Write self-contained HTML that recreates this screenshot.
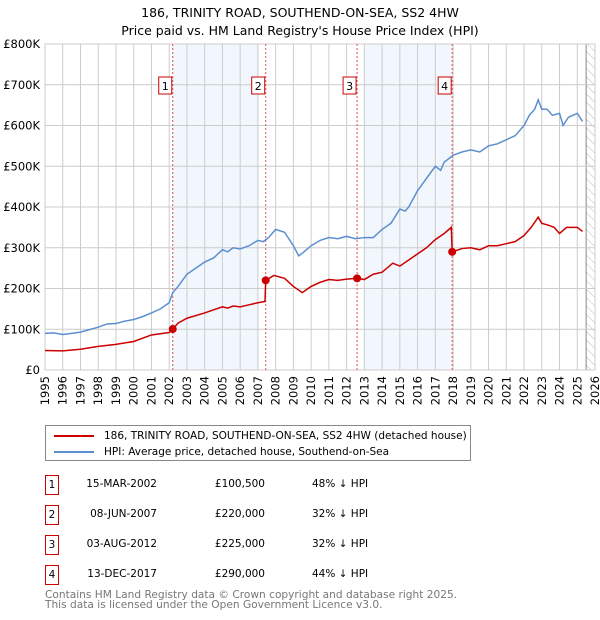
<!DOCTYPE html>
<html><head><meta charset="utf-8"><style>
body{margin:0;width:600px;height:620px;background:#fff;font-family:"DejaVu Sans","Liberation Sans",sans-serif;overflow:hidden;position:relative}
.t{position:absolute;white-space:nowrap}
</style></head><body>
<svg id="chart" width="600" height="420" style="position:absolute;left:0;top:0" font-family="DejaVu Sans, Liberation Sans, sans-serif">
<defs><pattern id="hatch" width="6" height="6" patternUnits="userSpaceOnUse" patternTransform="rotate(-45)"><line x1="0" y1="0" x2="0" y2="6" stroke="#bbb" stroke-width="1"/></pattern></defs>
<text x="300" y="17" text-anchor="middle" font-size="12.5">186, TRINITY ROAD, SOUTHEND-ON-SEA, SS2 4HW</text>
<text x="300" y="35" text-anchor="middle" font-size="12.5">Price paid vs. HM Land Registry's House Price Index (HPI)</text>
<g id="g"></g>
</svg>
<div class="t" style="left:45px;top:425px;width:426px;height:36px;border:1px solid #888;box-sizing:border-box;font-size:10.5px">
<div style="position:absolute;left:8px;top:4px"><span style="display:inline-block;width:40px;height:2px;background:#cc0000;vertical-align:middle;margin-right:10px"></span>186, TRINITY ROAD, SOUTHEND-ON-SEA, SS2 4HW (detached house)</div>
<div style="position:absolute;left:8px;top:20px"><span style="display:inline-block;width:40px;height:2px;background:#5b8fd0;vertical-align:middle;margin-right:10px"></span>HPI: Average price, detached house, Southend-on-Sea</div>
</div>
<div id="table"></div>
<div class="t" style="left:45px;top:590px;font-size:10.6px;color:#777;line-height:10px">Contains HM Land Registry data © Crown copyright and database right 2025.<br>This data is licensed under the Open Government Licence v3.0.</div>
<script>
const hpiYears=[1995,1995.5,1996,1996.5,1997,1997.5,1998,1998.5,1999,1999.5,2000,2000.5,2001,2001.5,2002,2002.2,2002.5,2003,2003.5,2004,2004.5,2005,2005.3,2005.6,2006,2006.5,2007,2007.3,2007.6,2008,2008.5,2009,2009.3,2009.6,2010,2010.5,2011,2011.5,2012,2012.5,2013,2013.5,2014,2014.5,2015,2015.3,2015.5,2016,2016.5,2017,2017.3,2017.5,2018,2018.5,2019,2019.5,2020,2020.5,2021,2021.5,2022,2022.3,2022.6,2022.8,2023,2023.3,2023.6,2024,2024.2,2024.5,2025,2025.3];
const hpiValues=[90,91,87,90,93,99,105,113,114,120,124,131,140,150,165,190,205,235,250,265,275,295,290,300,297,305,318,315,325,345,338,305,280,290,305,318,325,322,328,322,325,325,345,360,395,390,400,440,470,500,490,510,527,535,540,535,550,555,565,575,600,625,640,663,640,640,625,630,600,620,630,610];
const ppYears=[1995,1996,1997,1998,1999,2000,2001,2002,2002.2,2002.5,2003,2004,2005,2005.3,2005.6,2006,2006.5,2007,2007.4,2007.44,2007.9,2008.5,2009,2009.5,2010,2010.5,2011,2011.5,2012,2012.6,2013,2013.5,2014,2014.6,2015,2015.5,2016,2016.5,2017,2017.5,2017.9,2017.95,2018.5,2019,2019.5,2020,2020.5,2021,2021.5,2022,2022.4,2022.8,2023,2023.4,2023.7,2024,2024.4,2025,2025.3];
const ppValues=[48,47,51,58,63,70,86,92,100.5,115,127,140,155,152,157,155,160,165,168,220,232,225,205,190,205,215,222,220,223,225,222,235,240,262,255,270,285,300,320,335,350,290,298,300,295,305,305,310,315,330,350,375,360,355,350,335,350,350,340];
const saleYears=[2002.2,2007.44,2012.59,2017.95];
const salePrices=[100.5,220,225,290];
const saleLabels=["1","2","3","4"];
const saleDates=["15-MAR-2002","08-JUN-2007","03-AUG-2012","13-DEC-2017"];
const salePriceText=["£100,500","£220,000","£225,000","£290,000"];
const salePct=["48% ↓ HPI","32% ↓ HPI","32% ↓ HPI","44% ↓ HPI"];
const yTicks=[0,100,200,300,400,500,600,700,800];
const yTickLabels=["£0","£100K","£200K","£300K","£400K","£500K","£600K","£700K","£800K"];
const shadeRanges=[[2002.2,2007.0],[2013.0,2017.95]];

const X=y=>45+(y-1995)*(550/31);
const Y=v=>370-v*(326/800);
const g=document.getElementById('g');
const NS='http://www.w3.org/2000/svg';
function mk(t,a,p){const e=document.createElementNS(NS,t);for(const k in a)e.setAttribute(k,a[k]);(p||g).appendChild(e);return e;}
mk('rect',{x:45,y:44,width:550,height:326,fill:'#fff'});
shadeRanges.forEach((r,i)=>{const e=mk('rect',{x:X(r[0]),y:44,width:X(r[1])-X(r[0]),height:326,fill:'#f2f6fd'});

});
const h=mk('rect',{x:X(2025.5),y:44,width:595-X(2025.5),height:326,fill:'url(#hatch)'});


mk('line',{x1:X(2025.5),y1:44,x2:X(2025.5),y2:370,stroke:'#888','stroke-width':1});
for(let yr=1995;yr<=2026;yr++){
 mk('line',{x1:X(yr),y1:44,x2:X(yr),y2:370,stroke:'#ccc','stroke-width':1});
 const t=mk('text',{x:0,y:0,'font-size':11.5,'text-anchor':'end',transform:`translate(${X(yr)+4},376) rotate(-90)`});
 t.textContent=yr;
 
 
}
yTicks.forEach((v,i)=>{
 mk('line',{x1:45,y1:Y(v),x2:595,y2:Y(v),stroke:'#ccc','stroke-width':1});
 const t=mk('text',{x:40,y:Y(v)+4,'font-size':11.5,'text-anchor':'end'});
 t.textContent=yTickLabels[i];
 
 
});
mk('rect',{x:45,y:44,width:550,height:326,fill:'none',stroke:'#ccc'});
saleYears.forEach((s,i)=>{
 mk('line',{x1:X(s),y1:44,x2:X(s),y2:370,stroke:'#e05050','stroke-width':1,'stroke-dasharray':'2,2'});
});
const hp=mk('polyline',{points:hpiYears.map((y,i)=>X(y)+','+Y(hpiValues[i])).join(' '),fill:'none',stroke:'#5b8fd0','stroke-width':1.5});


const pp=mk('polyline',{points:ppYears.map((y,i)=>X(y)+','+Y(ppValues[i])).join(' '),fill:'none',stroke:'#cc0000','stroke-width':1.5});


saleYears.forEach((s,i)=>{
 const c=mk('circle',{cx:X(s),cy:Y(salePrices[i]),r:4,fill:'#cc0000'});
 
 
 const bx=mk('rect',{x:X(s)-14,y:77,width:13,height:17,fill:'#fff',stroke:'#cc0000'});
 
 
 const t=mk('text',{x:X(s)-7.5,y:90,'font-size':11,'text-anchor':'middle'});
 t.textContent=saleLabels[i];
});
const tb=document.getElementById('table');
saleLabels.forEach((l,i)=>{
 const top=475+i*30;
 const row=document.createElement('div');
 
 
 row.innerHTML=`<div class="t" style="left:45px;top:${top}px;width:14px;height:20px;border:1px solid #cc0000;box-sizing:border-box;font-size:10.5px;text-align:center;line-height:18px">${l}</div>
<div class="t" style="left:60px;width:97px;text-align:right;top:${top+3}px;font-size:10.5px">${saleDates[i]}</div>
<div class="t" style="left:170px;width:95px;text-align:right;top:${top+3}px;font-size:10.5px">${salePriceText[i]}</div>
<div class="t" style="left:312px;top:${top+3}px;font-size:10.5px">${salePct[i]}</div>`;
 tb.appendChild(row);
});
</script>
</body></html>
